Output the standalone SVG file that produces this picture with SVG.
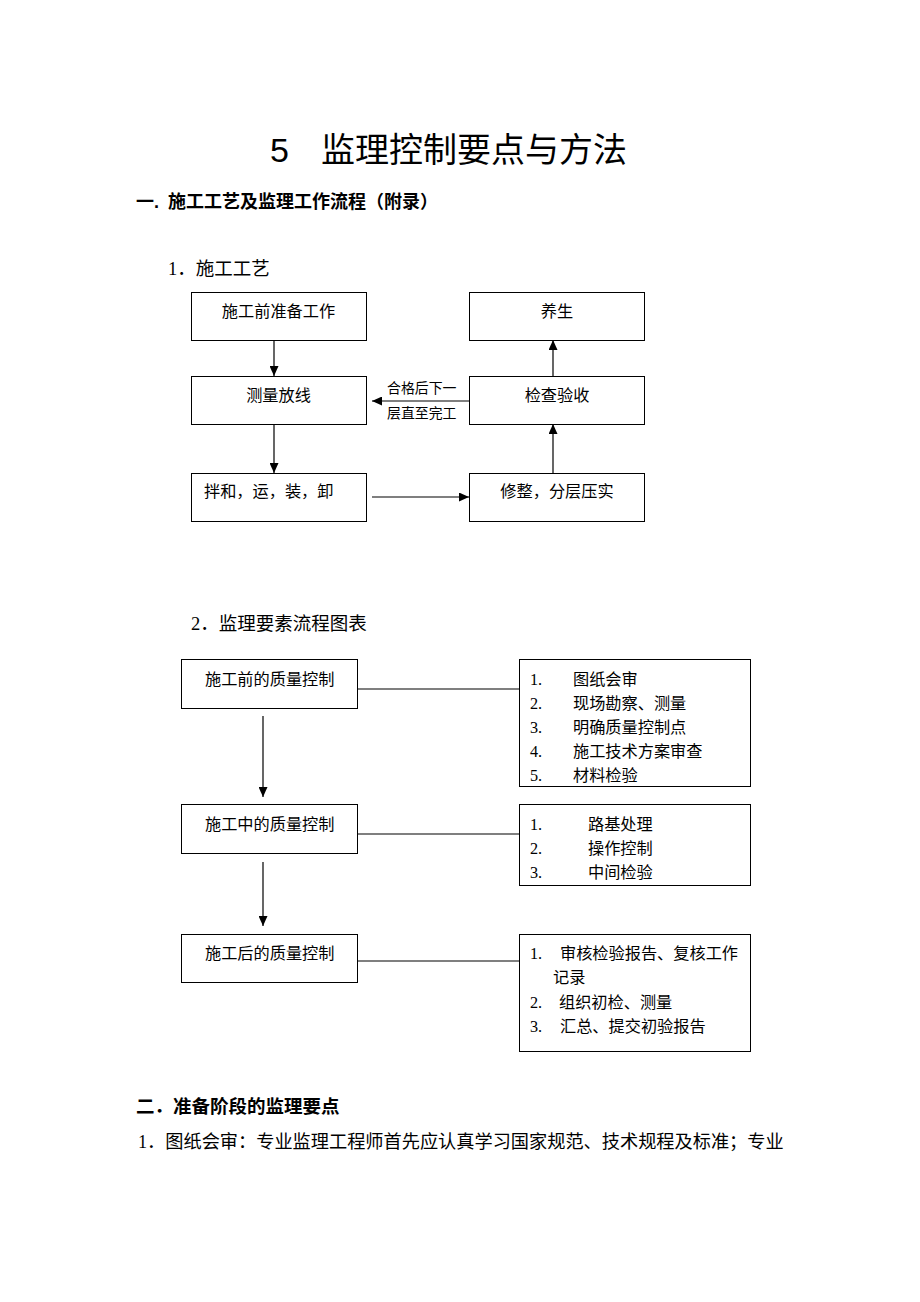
<svg xmlns="http://www.w3.org/2000/svg" width="920" height="1302" viewBox="0 0 920 1302">
<defs>
<style>
.t{font-family:"Liberation Serif","Noto Sans CJK SC",serif;fill:#000}
.h{font-family:"Liberation Sans","Noto Sans CJK SC",sans-serif;fill:#000}
.box{fill:#fff;stroke:#000;stroke-width:1}
.ln{fill:none;stroke:#000;stroke-width:1.2}
.bx{font-size:16.2px}
.lb{font-size:13.9px}
.body{font-size:18.5px}
</style>
<marker id="ah" markerUnits="userSpaceOnUse" markerWidth="10" markerHeight="9" refX="10" refY="4.5" orient="auto">
<path d="M0,0 L10,4.5 L0,9 z" fill="#000"/>
</marker>
</defs>
<rect width="920" height="1302" fill="#fff"/>

<g id="title">
<text class="h" x="270" y="162" font-size="34">5</text>
<text class="h" x="321" y="162" font-size="34">监理控制要点与方法</text>
</g>
<g id="heading1">
<text class="h" x="136" y="208" font-size="18" font-weight="bold">一.</text>
<text class="h" x="168" y="208" font-size="18" font-weight="bold">施工工艺及监理工作流程（附录）</text>
</g>
<g id="sub1"><text class="t body" x="168" y="275">1．施工工艺</text></g>

<g id="connectors1">
<line class="ln" x1="274" y1="340" x2="274" y2="376" marker-end="url(#ah)"/>
<line class="ln" x1="274" y1="424" x2="274" y2="473" marker-end="url(#ah)"/>
<line class="ln" x1="372" y1="497" x2="469" y2="497" marker-end="url(#ah)"/>
<line class="ln" x1="553" y1="473" x2="553" y2="424" marker-end="url(#ah)"/>
<line class="ln" x1="553" y1="376" x2="553" y2="340" marker-end="url(#ah)"/>
<line class="ln" x1="469" y1="401" x2="372" y2="401" marker-end="url(#ah)"/>
<text class="t lb" x="387" y="393">合格后下一</text>
<text class="t lb" x="387" y="418">层直至完工</text>
</g>

<g id="n1"><rect class="box" x="191.5" y="292.5" width="175" height="48"/><text class="t bx" x="278.5" y="317" text-anchor="middle">施工前准备工作</text></g>
<g id="n2"><rect class="box" x="191.5" y="376.5" width="175" height="48"/><text class="t bx" x="278.5" y="401" text-anchor="middle">测量放线</text></g>
<g id="n3"><rect class="box" x="191.5" y="473.5" width="175" height="48"/><text class="t bx" x="204" y="497">拌和，运，装，卸</text></g>
<g id="n4"><rect class="box" x="469.5" y="292.5" width="175" height="48"/><text class="t bx" x="557" y="317" text-anchor="middle">养生</text></g>
<g id="n5"><rect class="box" x="469.5" y="376.5" width="175" height="48"/><text class="t bx" x="557" y="401" text-anchor="middle">检查验收</text></g>
<g id="n6"><rect class="box" x="469.5" y="473.5" width="175" height="48"/><text class="t bx" x="557" y="497" text-anchor="middle">修整，分层压实</text></g>

<g id="sub2"><text class="t body" x="191" y="630">2．监理要素流程图表</text></g>

<g id="connectors2">
<line class="ln" x1="263" y1="716" x2="263" y2="797" marker-end="url(#ah)"/>
<line class="ln" x1="263" y1="862" x2="263" y2="926" marker-end="url(#ah)"/>
<line class="ln" x1="357" y1="689" x2="523" y2="689"/>
<line class="ln" x1="357" y1="834" x2="523" y2="834"/>
<line class="ln" x1="357" y1="961" x2="523" y2="961"/>
</g>

<g id="q1"><rect class="box" x="181.5" y="659.5" width="176" height="49"/><text class="t bx" x="205" y="685">施工前的质量控制</text></g>
<g id="q2"><rect class="box" x="181.5" y="804.5" width="176" height="49"/><text class="t bx" x="205" y="830">施工中的质量控制</text></g>
<g id="q3"><rect class="box" x="181.5" y="934.5" width="176" height="48"/><text class="t bx" x="205" y="959">施工后的质量控制</text></g>

<g id="r1"><rect class="box" x="519.5" y="659.5" width="231" height="127"/>
<g class="t bx">
<text x="530" y="685">1.</text><text x="573" y="685">图纸会审</text>
<text x="530" y="709">2.</text><text x="573" y="709">现场勘察、测量</text>
<text x="530" y="733">3.</text><text x="573" y="733">明确质量控制点</text>
<text x="530" y="757">4.</text><text x="573" y="757">施工技术方案审查</text>
<text x="530" y="781">5.</text><text x="573" y="781">材料检验</text>
</g></g>
<g id="r2"><rect class="box" x="519.5" y="804.5" width="231" height="81"/>
<g class="t bx">
<text x="530" y="830">1.</text><text x="588" y="830">路基处理</text>
<text x="530" y="854">2.</text><text x="588" y="854">操作控制</text>
<text x="530" y="878">3.</text><text x="588" y="878">中间检验</text>
</g></g>
<g id="r3"><rect class="box" x="519.5" y="934.5" width="231" height="117"/>
<g class="t bx">
<text x="530" y="959">1.</text><text x="560" y="959">审核检验报告、复核工作</text>
<text x="553" y="983">记录</text>
<text x="530" y="1008">2.</text><text x="559" y="1008">组织初检、测量</text>
<text x="530" y="1032">3.</text><text x="560" y="1032">汇总、提交初验报告</text>
</g></g>

<g id="heading2"><text class="h" x="136" y="1113" font-size="18.5" font-weight="bold">二．准备阶段的监理要点</text></g>
<g id="para"><text class="t" font-size="18.2" x="138" y="1148">1．图纸会审：专业监理工程师首先应认真学习国家规范、技术规程及标准；专业</text></g>
</svg>
